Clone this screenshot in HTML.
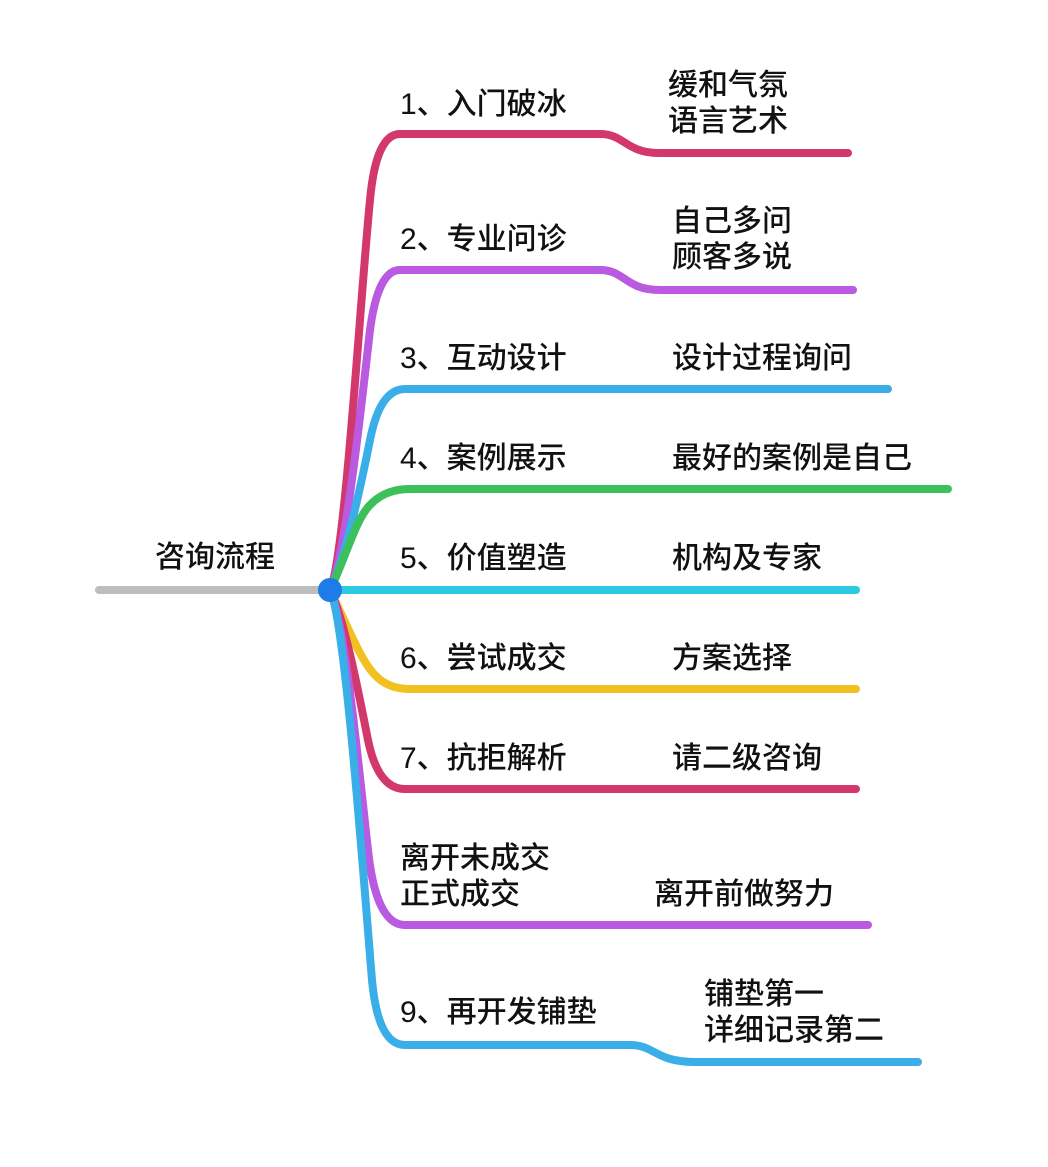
<!DOCTYPE html>
<html><head><meta charset="utf-8"><style>
html,body{margin:0;padding:0;background:#fff;}
svg text{font-family:"Liberation Sans","Noto Sans CJK SC",sans-serif;font-size:30px;fill:#111;font-weight:500;}
</style></head><body>
<svg width="1048" height="1162" viewBox="0 0 1048 1162" xmlns="http://www.w3.org/2000/svg">
<g fill="none" stroke-width="8" stroke-linecap="round" stroke-linejoin="round">
<line x1="99" y1="590" x2="330" y2="590" stroke="#bdbdbd"/>
<path d="M330,590 C345,560 360,300 370,200 Q376,134 400,134 L600,134 C625,134 625,153 660,153 L848,153" stroke="#d2386b"/>
<path d="M330,590 C345,560 362,400 370,330 Q378,270 400,270 L600,270 C625,270 625,290 660,290 L853,290" stroke="#b95ae0"/>
<path d="M330,590 C345,560 362,480 370,440 Q380,389 405,389 L888,389" stroke="#3aaee8"/>
<path d="M330,590 C345,560 355,520 370,505 Q385,489 410,489 L948,489" stroke="#3cc05a"/>
<path d="M330,590 L856,590" stroke="#2ecbe0"/>
<path d="M330,590 C345,620 360,660 375,675 Q388,689 410,689 L856,689" stroke="#f2c020"/>
<path d="M330,590 C345,620 360,700 368,740 Q378,789 405,789 L856,789" stroke="#d2386b"/>
<path d="M330,590 C345,620 360,780 368,850 Q376,925 405,925 L868,925" stroke="#b95ae0"/>
<path d="M330,590 C345,620 362,860 372,980 Q378,1045 405,1045 L630,1045 C655,1045 655,1062 695,1062 L918,1062" stroke="#3aaee8"/>
</g>
<circle cx="330" cy="590" r="12" fill="#1e7bea"/>
<text x="155" y="567">咨询流程</text>
<text x="400" y="114">1、入门破冰</text>
<text x="668" y="95">缓和气氛</text>
<text x="668" y="131">语言艺术</text>
<text x="400" y="249">2、专业问诊</text>
<text x="672" y="231">自己多问</text>
<text x="672" y="267">顾客多说</text>
<text x="400" y="368">3、互动设计</text>
<text x="672" y="368">设计过程询问</text>
<text x="400" y="468">4、案例展示</text>
<text x="672" y="468">最好的案例是自己</text>
<text x="400" y="568">5、价值塑造</text>
<text x="672" y="568">机构及专家</text>
<text x="400" y="668">6、尝试成交</text>
<text x="672" y="668">方案选择</text>
<text x="400" y="768">7、抗拒解析</text>
<text x="672" y="768">请二级咨询</text>
<text x="400" y="868">离开未成交</text>
<text x="400" y="904">正式成交</text>
<text x="654" y="904">离开前做努力</text>
<text x="400" y="1022">9、再开发铺垫</text>
<text x="704" y="1004">铺垫第一</text>
<text x="704" y="1040">详细记录第二</text>
</svg>
</body></html>
